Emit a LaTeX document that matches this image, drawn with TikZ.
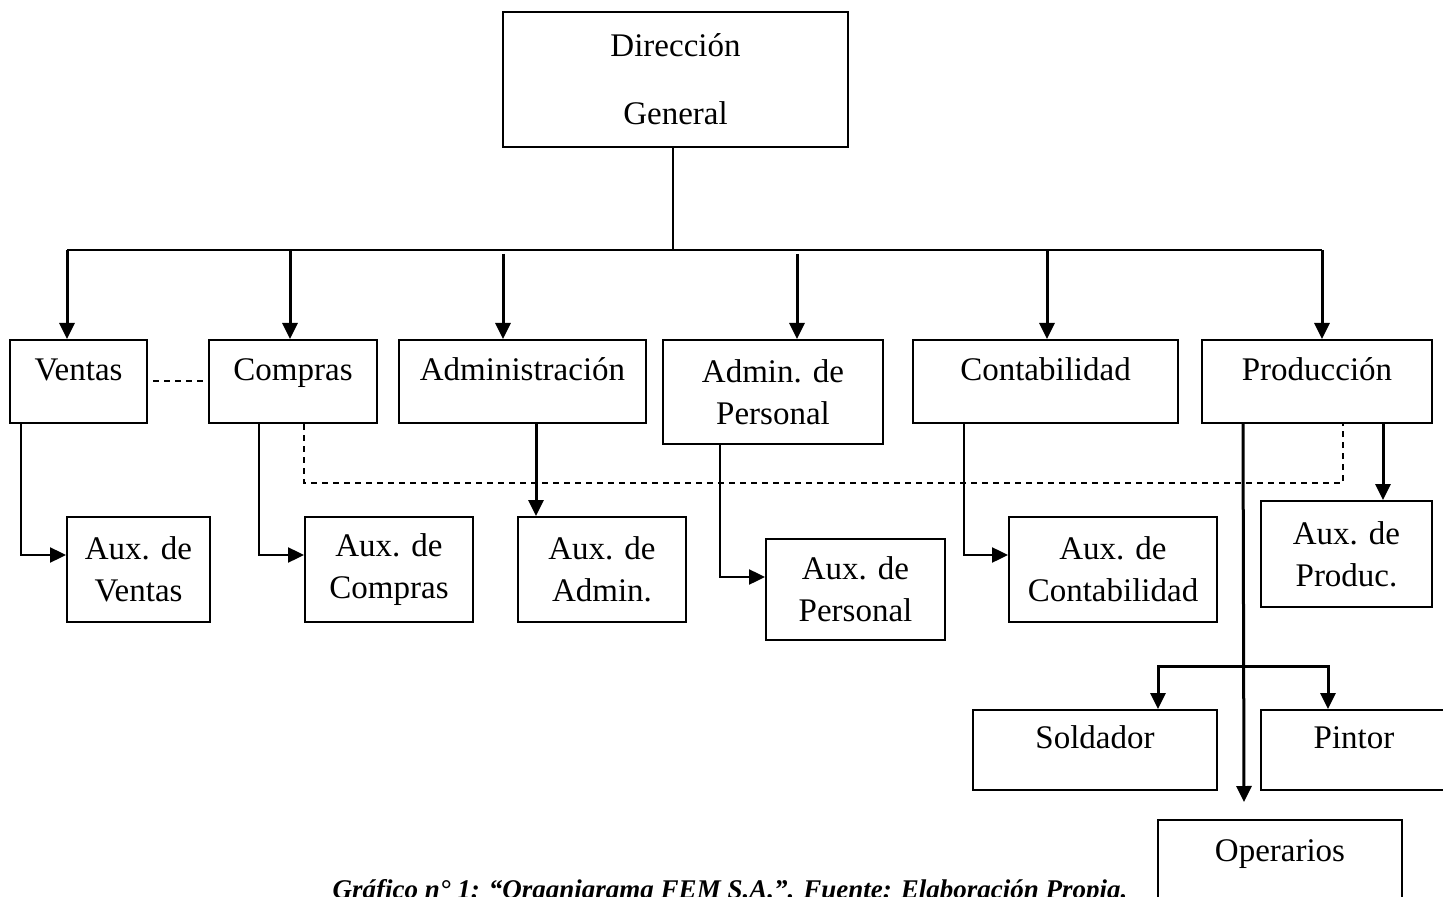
\documentclass[tikz,border=0pt]{standalone}
\usepackage{fontspec}
\setmainfont{Liberation Serif}
\usetikzlibrary{arrows.meta}

\begin{document}
\begin{tikzpicture}[x=0.5pt, y=-0.5pt,
    every node/.style={font=\fontsize{16.5}{21}\selectfont},
    box/.style={draw, line width=1pt, align=center, inner sep=0pt},
    toptext/.style={text height=12pt, text depth=13.5pt},
    branch/.style={line width=1.5pt, -{Triangle[length=8pt,width=7.5pt]}},
    elbow/.style={line width=1.2pt, -{Triangle[length=8pt,width=7.5pt]}},
    link/.style={line width=1pt, dash pattern=on 3pt off 2.5pt}]
  \useasboundingbox (0,0) rectangle (1443,897);
  % Top
  \node[box, minimum width=172.5pt, minimum height=67.5pt] (dir) at (675.5,79.5) {Dirección\\[13pt]General};
  % Departments
  \node[box, toptext, minimum width=68.5pt, minimum height=41.5pt] (ventas) at (78.5,381.5) {Ventas};
  \node[box, toptext, minimum width=84pt, minimum height=41.5pt] (compras) at (293,381.5) {Compras};
  \node[box, toptext, minimum width=123.5pt, minimum height=41.5pt] (admin) at (522.5,381.5) {Administración};
  \node[box, minimum width=110pt, minimum height=52pt] (personal) at (773,392) {Admin. de\\Personal};
  \node[box, toptext, minimum width=132.5pt, minimum height=41.5pt] (contab) at (1045.5,381.5) {Contabilidad};
  \node[box, toptext, minimum width=115pt, minimum height=41.5pt] (produc) at (1317,381.5) {Producción};
  % Auxiliaries
  \node[box, minimum width=71.5pt, minimum height=52.5pt] (auxventas) at (138.5,569.5) {Aux. de\\Ventas};
  \node[box, minimum width=84pt, minimum height=52.5pt] (auxcompras) at (389,569.5) {Aux. de\\Compras};
  \node[box, minimum width=84pt, minimum height=52.5pt] (auxadmin) at (602,569.5) {Aux. de\\Admin.};
  \node[box, minimum width=89.5pt, minimum height=50.5pt] (auxpersonal) at (855.5,589.5) {Aux. de\\Personal};
  \node[box, minimum width=104pt, minimum height=52.5pt] (auxcontab) at (1113,569.5) {Aux. de\\Contabilidad};
  \node[box, minimum width=85.5pt, minimum height=53pt] (auxproduc) at (1346.5,554) {Aux. de\\Produc.};
  % Production staff
  \node[box, toptext, minimum width=122pt, minimum height=40pt] (soldador) at (1095,750) {Soldador};
  \node[box, toptext, minimum width=93pt, minimum height=40pt] (pintor) at (1354,750) {Pintor};
  \node[box, toptext, minimum width=122pt, minimum height=42.5pt] (operarios) at (1280,862.5) {Operarios};
  % Bus
  \coordinate (b1) at (67,250);
  \coordinate (b2) at (290,250);
  \coordinate (b3) at (503,250);
  \coordinate (b4) at (797,250);
  \coordinate (b5) at (1047,250);
  \coordinate (b6) at (1322,250);
  \draw[line width=1pt] ([xshift=-1.25pt]dir.south) -- ([xshift=-1.25pt]dir.south |- b1);
  \draw[line width=1pt] (b1) -- (b6);
  \draw[branch] (b1) -- (b1 |- ventas.north);
  \draw[branch] (b2) -- (b2 |- compras.north);
  \draw[branch] ([yshift=-2pt]b3) -- (b3 |- admin.north);
  \draw[branch] ([yshift=-2pt]b4) -- (b4 |- personal.north);
  \draw[branch] (b5) -- (b5 |- contab.north);
  \draw[branch] (b6) -- (b6 |- produc.north);
  % Elbows
  \draw[elbow] ([xshift=6pt]ventas.south west) |- ([yshift=7.25pt]auxventas.west);
  \draw[elbow] ([xshift=25.5pt]compras.south west) |- ([yshift=7.25pt]auxcompras.west);
  \draw[branch] ([xshift=6.75pt]admin.south) -- ([xshift=6.75pt]admin.south |- auxadmin.north);
  \draw[elbow] ([xshift=29pt]personal.south west) |- ([yshift=6.25pt]auxpersonal.west);
  \draw[elbow] ([xshift=26pt]contab.south west) |- ([yshift=7.25pt]auxcontab.west);
  \draw[branch] ([xshift=33pt]produc.south) -- ([xshift=33pt]produc.south |- auxproduc.north);
  % Production line
  \coordinate (opin) at (1244,802);
  \coordinate (sl) at (1158,666);
  \coordinate (sr) at (1328,666);
  \draw[branch] ([xshift=21pt]produc.south west) -- (opin);
  \draw[branch] (sr) -- (sl) -- (sl |- soldador.north);
  \draw[branch] (sl) -- (sr) -- (sr |- pintor.north);
  % Dashed links
  \draw[link] ([xshift=2.5pt]ventas.east) -- (compras.west);
  \draw[link] ([xshift=48pt]compras.south west) -- ++(0,59) -| ([xshift=71pt]produc.south west);
  % Caption
  \node[font=\fontsize{13.5}{16}\selectfont\bfseries\itshape, anchor=base] (caption) at (730,898) {Gráfico n° 1: “Organigrama FEM S.A.”. Fuente: Elaboración Propia.};
\end{tikzpicture}
\end{document}
